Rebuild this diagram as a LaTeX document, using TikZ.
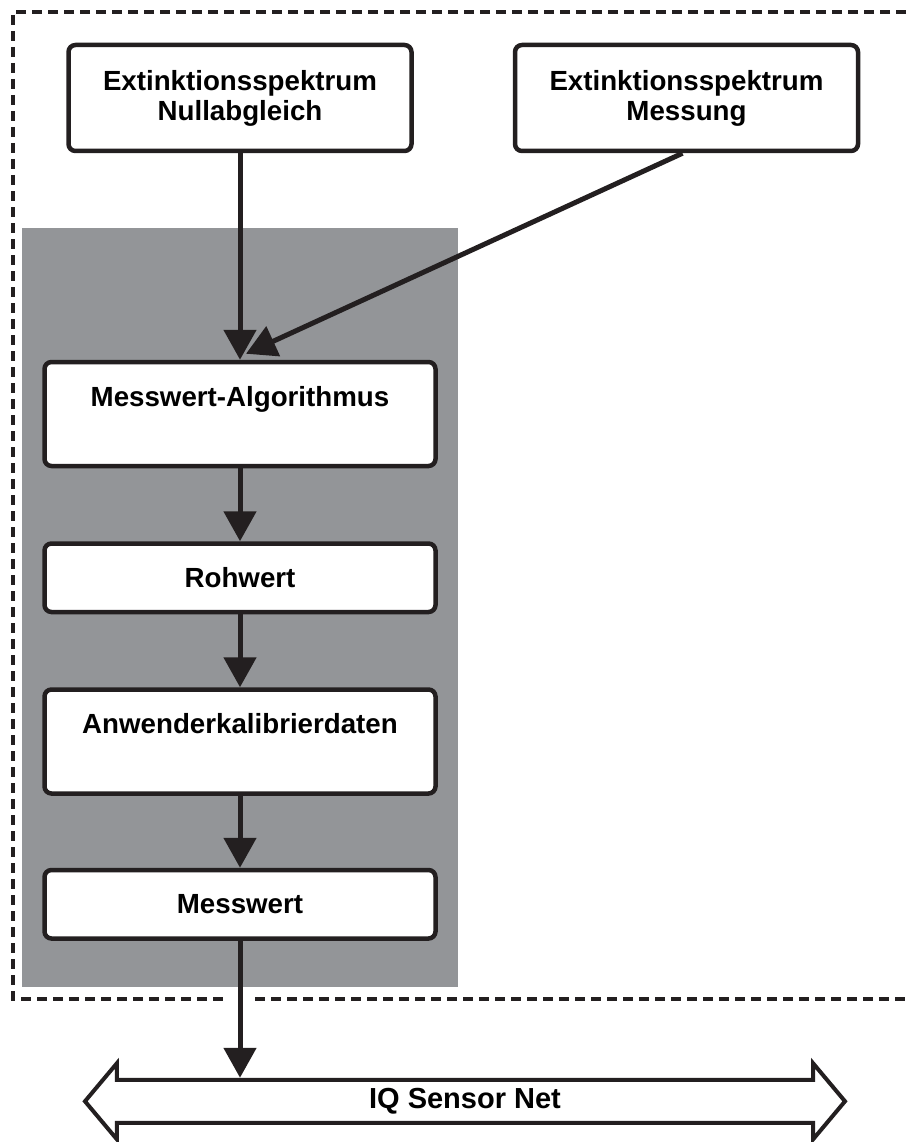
\documentclass[tikz,border=0pt]{standalone}
\usepackage{fontspec}
\setmainfont{Liberation Sans}
\usepackage{tikz}
\usetikzlibrary{shapes,arrows.meta,positioning,backgrounds}
\definecolor{linecolor}{RGB}{35,31,32}
\definecolor{panelcolor}{RGB}{147,149,152}

\begin{document}
\begin{tikzpicture}[
    x=1pt, y=1pt,
    font=\fontsize{27.7pt}{30pt}\selectfont\bfseries,
    box/.style={rectangle, rounded corners=7pt, draw=linecolor, line width=4.5pt, fill=white, align=center, minimum width=391pt, minimum height=68.5pt},
    inputbox/.style={box, minimum width=343pt, minimum height=106pt},
    tallbox/.style={box, minimum height=104pt, text height=20pt, text depth=36pt},
    bus/.style={double arrow, draw=linecolor, line width=4pt, fill=white, double arrow tip angle=100, double arrow head extend=14pt, double arrow head indent=0pt, minimum height=760pt, minimum width=76pt, font=\fontsize{29pt}{32pt}\selectfont\bfseries},
    arrow/.style={-{Triangle[width=32pt,length=30pt]}, line width=5pt, draw=linecolor},
    frame/.style={draw=linecolor, line width=4pt, dash pattern=on 10pt off 6pt}
]
\useasboundingbox (0,0) rectangle (906,-1142);

% Spektren
\node[inputbox] (nullabgleich) at (240,-98) {Extinktionsspektrum\\Nullabgleich};
\node[inputbox, right=99pt of nullabgleich] (messung) {Extinktionsspektrum\\Messung};

% Verarbeitung
\node[tallbox, below=206.5pt of nullabgleich] (algorithmus) {Messwert-Algorithmus};
\node[box, below=73pt of algorithmus] (rohwert) {Rohwert};
\node[tallbox, below=73pt of rohwert] (kalibrierdaten) {Anwenderkalibrierdaten};
\node[box, below=72pt of kalibrierdaten] (messwert) {Messwert};

% Bus
\node[bus, below=137pt of messwert, xshift=225pt] (sensornet) {IQ Sensor Net};

% Hintergrund und Rahmen
\begin{scope}[on background layer]
\fill[panelcolor] (22,-228) rectangle (458,-987);
\draw[frame] (906,-12) -- (13,-12) -- (13,-999) -- (225,-999);
\draw[frame] (255,-999) -- (906,-999);
\end{scope}

% Pfeile
\draw[arrow] (nullabgleich) -- (algorithmus);
\draw[arrow] ([xshift=-4pt]messung.south) -- ([xshift=6pt,yshift=6pt]algorithmus.north);
\draw[arrow] (algorithmus) -- (rohwert);
\draw[arrow] (rohwert) -- (kalibrierdaten);
\draw[arrow] (kalibrierdaten) -- (messwert);
\draw[arrow] (messwert) -- (messwert |- sensornet.north);

\end{tikzpicture}
\end{document}
